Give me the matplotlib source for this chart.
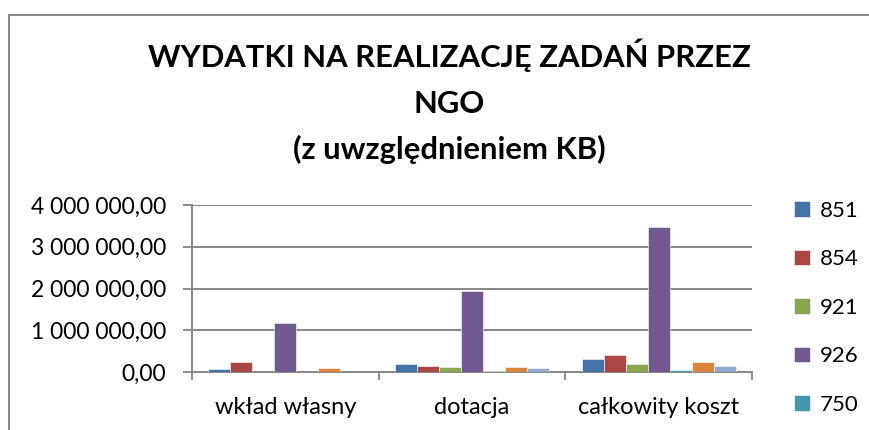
import matplotlib
matplotlib.use("Agg")
import matplotlib.pyplot as plt
import numpy as np
from matplotlib.lines import Line2D
from matplotlib.ticker import FuncFormatter

# dane
categories = ["wkład własny", "dotacja", "całkowity koszt"]
series = ["851", "854", "921", "926", "750", "801", "852"]
v851 = [64000, 183000, 302000]
v854 = [230000, 136000, 405000]
v921 = [0, 112000, 198000]
v926 = [1183000, 1929000, 3476000]
v750 = [0, 17000, 40000]
v801 = [95000, 112000, 238000]
v852 = [0, 88000, 150000]
values = [v851, v854, v921, v926, v750, v801, v852]
colors = ["#4572A7", "#AA4643", "#89A54E", "#71588F", "#4198AF", "#DB843D", "#93A9CF"]
y_ticks = [0, 1000000, 2000000, 3000000, 4000000]
title_lines = ["WYDATKI NA REALIZACJĘ ZADAŃ PRZEZ", "NGO", "(z uwzględnieniem KB)"]
n_legend_visible = 5  # reszta legendy jest ucięta w oryginale

plt.rcParams["font.family"] = ["Lato", "DejaVu Sans"]
grey = "#868686"

W, H = 869, 430
fig = plt.figure(figsize=(W / 100, H / 100), dpi=100)
ax = fig.add_axes([192 / W, 1 - 372 / H, (752 - 192) / W, (372 - 205) / H])

n = len(series)
w = 1 / (n + 1.5)
x = np.arange(len(categories))
for i, (name, vals, c) in enumerate(zip(series, values, colors)):
    ax.bar(x + (i - (n - 1) / 2) * w, vals, width=w, color=c, label=name,
           edgecolor="#ffffff", linewidth=0.4, zorder=3)

ax.set_xlim(-0.5, len(categories) - 0.5)
ax.set_ylim(0, 4000000)
ax.set_yticks(y_ticks)
ax.yaxis.set_major_formatter(FuncFormatter(
    lambda v, p: f"{v:,.2f}".replace(",", " ").replace(".", ",")))
ax.set_xticks(x)
ax.set_xticklabels(categories)
ax.set_xticks(np.arange(len(categories) + 1) - 0.5, minor=True)
ax.tick_params(axis="x", which="major", length=0, pad=18, labelsize=17)
ax.tick_params(axis="x", which="minor", length=6, width=1.3, color=grey)
ax.tick_params(axis="y", length=6.5, width=1.3, color=grey, pad=12, labelsize=16.5)

ax.grid(axis="y", color=grey, linewidth=1.4, zorder=0)
for s in ["top", "right"]:
    ax.spines[s].set_visible(False)
for s in ["left", "bottom"]:
    ax.spines[s].set_color(grey)
    ax.spines[s].set_linewidth(1.4)

# ramka obszaru wykresu (ucięta z prawej i od dołu)
bx, by = 8.5 / W, 1 - 14.5 / H
fig.add_artist(Line2D([bx, bx], [0, by], transform=fig.transFigure, color=grey, linewidth=1.4))
fig.add_artist(Line2D([bx, 1], [by, by], transform=fig.transFigure, color=grey, linewidth=1.4))

for line, yb in zip(title_lines, [67, 113, 159]):
    fig.text(449 / W, 1 - yb / H, line, ha="center", va="baseline",
             fontsize=22.3, fontweight="bold")

handles, labels = ax.get_legend_handles_labels()
fig.legend(handles[:n_legend_visible], labels[:n_legend_visible], loc="upper left",
           bbox_to_anchor=(794 / W, 1 - 201 / H),
           frameon=False, fontsize=16, handlelength=0.7, handleheight=0.7,
           handletextpad=0.45, labelspacing=1.28, borderpad=0, borderaxespad=0)

fig.savefig("out.png", dpi=100)
